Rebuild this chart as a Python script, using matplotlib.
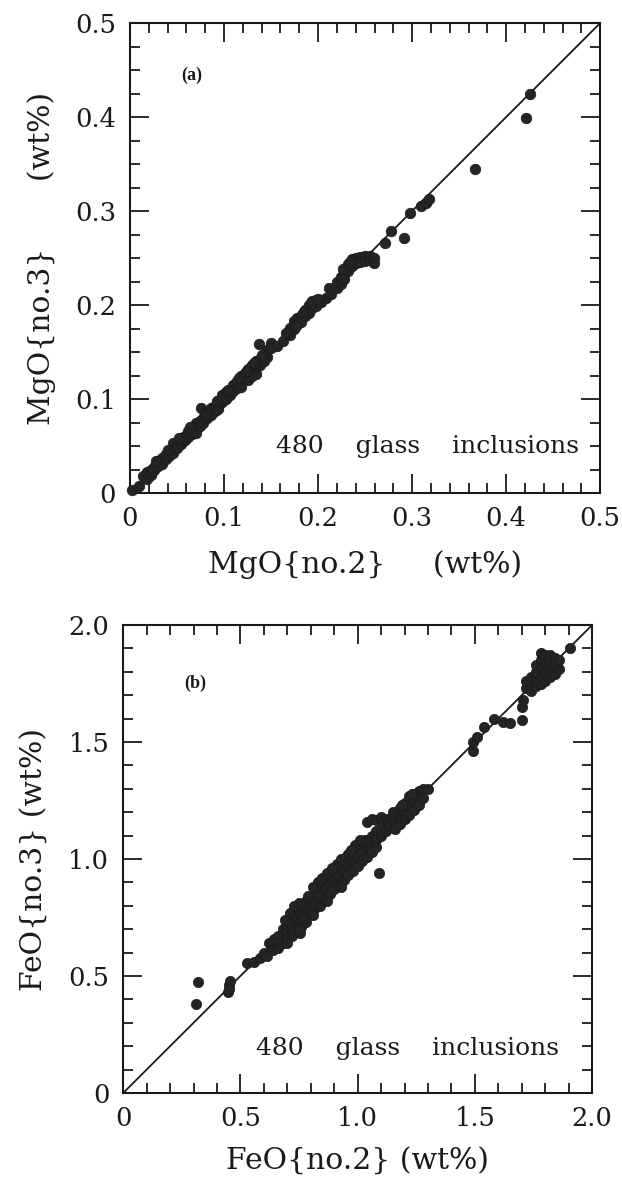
import numpy as np
import matplotlib.pyplot as plt
from matplotlib.ticker import MultipleLocator, FuncFormatter

# panel (a): MgO, probe no.2 vs no.3 (wt%)
mgo_no2 = [0.002, 0.010, 0.014, 0.018, 0.018, 0.022, 0.022, 0.026, 0.026, 0.030, 0.030,
           0.034, 0.034, 0.038, 0.038, 0.042, 0.042, 0.046, 0.046, 0.046, 0.050, 0.050,
           0.054, 0.054, 0.058, 0.058, 0.062, 0.062, 0.066, 0.066, 0.070, 0.070, 0.070,
           0.074, 0.074, 0.075, 0.078, 0.078, 0.082, 0.082, 0.086, 0.086, 0.090, 0.090,
           0.094, 0.094, 0.094, 0.098, 0.098, 0.102, 0.102, 0.106, 0.106, 0.110, 0.110,
           0.114, 0.114, 0.118, 0.118, 0.118, 0.122, 0.122, 0.126, 0.126, 0.126, 0.130,
           0.130, 0.130, 0.134, 0.134, 0.134, 0.137, 0.138, 0.138, 0.142, 0.142, 0.146,
           0.146, 0.150, 0.150, 0.156, 0.163, 0.170, 0.170, 0.174, 0.174, 0.178, 0.178,
           0.182, 0.182, 0.186, 0.186, 0.190, 0.190, 0.194, 0.194, 0.198, 0.198, 0.203,
           0.208, 0.214, 0.220, 0.220, 0.224, 0.224, 0.228, 0.228, 0.232, 0.232, 0.236,
           0.236, 0.240, 0.240, 0.245, 0.245, 0.250, 0.250, 0.255, 0.255, 0.259, 0.259,
           0.028, 0.040, 0.052, 0.064, 0.080, 0.092, 0.104, 0.116, 0.124, 0.132, 0.140,
           0.176, 0.184, 0.192, 0.212, 0.226, 0.234, 0.166, 0.200,
           0.271, 0.277, 0.291, 0.298, 0.309, 0.315, 0.318, 0.367, 0.421, 0.425]
mgo_no3 = [0.003, 0.008, 0.018, 0.015, 0.022, 0.025, 0.019, 0.028, 0.024, 0.034, 0.029,
           0.037, 0.031, 0.042, 0.036, 0.044, 0.039, 0.053, 0.047, 0.043, 0.053, 0.048,
           0.058, 0.052, 0.061, 0.056, 0.066, 0.060, 0.068, 0.063, 0.075, 0.068, 0.064,
           0.077, 0.071, 0.090, 0.080, 0.074, 0.086, 0.080, 0.090, 0.083, 0.093, 0.087,
           0.098, 0.092, 0.089, 0.104, 0.097, 0.107, 0.100, 0.110, 0.104, 0.115, 0.108,
           0.119, 0.112, 0.124, 0.117, 0.113, 0.128, 0.121, 0.132, 0.125, 0.120, 0.136,
           0.129, 0.124, 0.140, 0.133, 0.127, 0.158, 0.143, 0.136, 0.146, 0.140, 0.152,
           0.145, 0.160, 0.154, 0.156, 0.162, 0.168, 0.176, 0.183, 0.175, 0.186, 0.180,
           0.188, 0.182, 0.195, 0.188, 0.200, 0.192, 0.204, 0.197, 0.205, 0.199, 0.203,
           0.207, 0.212, 0.218, 0.224, 0.230, 0.222, 0.236, 0.228, 0.244, 0.236, 0.249,
           0.242, 0.250, 0.245, 0.251, 0.246, 0.252, 0.247, 0.252, 0.248, 0.250, 0.245,
           0.034, 0.046, 0.058, 0.070, 0.084, 0.098, 0.110, 0.122, 0.130, 0.138, 0.147,
           0.178, 0.192, 0.202, 0.218, 0.238, 0.246, 0.170, 0.206,
           0.266, 0.279, 0.271, 0.298, 0.305, 0.308, 0.313, 0.345, 0.399, 0.425]

# panel (b): FeO, probe no.2 vs no.3 (wt%)
feo_no2 = [0.311, 0.321, 0.445, 0.450, 0.455, 0.452, 0.527, 0.560, 0.585, 0.600, 0.615,
           0.620, 0.635, 0.645, 0.640, 0.640, 0.660, 0.660, 0.660, 0.680, 0.680, 0.680,
           0.700, 0.700, 0.700, 0.720, 0.720, 0.720, 0.720, 0.740, 0.740, 0.740, 0.740,
           0.760, 0.760, 0.760, 0.760, 0.755, 0.780, 0.780, 0.780, 0.780, 0.800, 0.800,
           0.800, 0.820, 0.820, 0.820, 0.840, 0.840, 0.840, 0.860, 0.860, 0.860, 0.880,
           0.880, 0.880, 0.900, 0.900, 0.900, 0.920, 0.920, 0.920, 0.940, 0.940, 0.940,
           0.960, 0.960, 0.960, 0.980, 0.980, 0.980, 1.000, 1.000, 1.000, 1.020, 1.020,
           1.020, 1.040, 1.040, 1.040, 1.040, 1.060, 1.060, 1.060, 1.060, 1.080, 1.080,
           1.080, 1.080, 1.093, 1.100, 1.100, 1.100, 1.120, 1.120, 1.120, 1.140, 1.140,
           1.160, 1.160, 1.160, 1.180, 1.180, 1.180, 1.200, 1.200, 1.200, 1.220, 1.220,
           1.220, 1.240, 1.240, 1.240, 1.260, 1.260, 1.260, 1.280, 1.280, 1.300, 1.490,
           1.490, 1.510, 1.540, 1.580, 1.620, 1.650, 1.700, 1.700, 1.707, 1.720, 1.720,
           1.740, 1.740, 1.740, 1.760, 1.760, 1.760, 1.760, 1.780, 1.780, 1.780, 1.780,
           1.780, 1.800, 1.800, 1.800, 1.800, 1.820, 1.820, 1.820, 1.820, 1.840, 1.840,
           1.840, 1.860, 1.860, 1.906,
           0.710, 0.730, 0.750, 0.770, 0.790, 0.830, 0.870, 0.910, 0.950, 0.990, 1.030,
           0.690, 0.750, 0.810, 0.850, 0.890, 0.930, 0.970, 1.010, 1.150, 1.190, 1.230,
           0.700, 0.810, 0.870, 0.930]
feo_no3 = [0.380, 0.473, 0.430, 0.460, 0.480, 0.445, 0.554, 0.560, 0.575, 0.600, 0.585,
           0.640, 0.620, 0.660, 0.640, 0.610, 0.670, 0.640, 0.620, 0.700, 0.670, 0.640,
           0.720, 0.690, 0.660, 0.760, 0.720, 0.690, 0.670, 0.780, 0.750, 0.720, 0.700,
           0.800, 0.770, 0.740, 0.710, 0.682, 0.820, 0.790, 0.760, 0.730, 0.830, 0.800,
           0.770, 0.860, 0.820, 0.790, 0.880, 0.840, 0.800, 0.910, 0.870, 0.830, 0.920,
           0.890, 0.850, 0.950, 0.910, 0.870, 0.970, 0.930, 0.890, 0.990, 0.950, 0.910,
           1.020, 0.970, 0.930, 1.030, 0.990, 0.950, 1.050, 1.010, 0.970, 1.060, 1.030,
           0.990, 1.080, 1.050, 1.010, 1.160, 1.100, 1.060, 1.030, 1.170, 1.120, 1.080,
           1.050, 1.167, 0.941, 1.130, 1.100, 1.180, 1.150, 1.120, 1.170, 1.170, 1.140,
           1.190, 1.160, 1.130, 1.220, 1.180, 1.150, 1.240, 1.200, 1.170, 1.270, 1.220,
           1.190, 1.280, 1.250, 1.210, 1.290, 1.250, 1.230, 1.300, 1.260, 1.300, 1.460,
           1.500, 1.520, 1.565, 1.600, 1.587, 1.580, 1.594, 1.650, 1.680, 1.730, 1.760,
           1.720, 1.750, 1.780, 1.740, 1.770, 1.800, 1.830, 1.750, 1.780, 1.820, 1.850,
           1.880, 1.760, 1.800, 1.840, 1.870, 1.780, 1.810, 1.840, 1.870, 1.790, 1.830,
           1.860, 1.810, 1.850, 1.900,
           0.770, 0.800, 0.700, 0.750, 0.840, 0.900, 0.940, 0.980, 1.010, 1.060, 1.080,
           0.740, 0.810, 0.880, 0.920, 0.960, 1.000, 1.040, 1.080, 1.200, 1.230, 1.280,
           0.640, 0.760, 0.820, 0.880]

ink = '#1a1a1a'
plt.rcParams['font.family'] = ['DejaVu Serif']

fig = plt.figure(figsize=(6.22, 11.86), dpi=100)
ax1 = fig.add_axes([0.209, 0.5843, 0.756, 0.3963])
ax2 = fig.add_axes([0.198, 0.0784, 0.754, 0.3946])

def style(ax, lim, major, minor_x, minor_y, one_decimal):
    ax.set_xlim(0, lim)
    ax.set_ylim(0, lim)
    ax.xaxis.set_major_locator(MultipleLocator(major))
    ax.yaxis.set_major_locator(MultipleLocator(major))
    ax.xaxis.set_minor_locator(MultipleLocator(minor_x))
    ax.yaxis.set_minor_locator(MultipleLocator(minor_y))
    if one_decimal:
        f = FuncFormatter(lambda v, p: '0' if abs(v) < 1e-9 else '%.1f' % v)
    else:
        f = FuncFormatter(lambda v, p: '0' if abs(v) < 1e-9 else '%g' % v)
    ax.xaxis.set_major_formatter(f)
    ax.yaxis.set_major_formatter(f)
    ax.tick_params(which='both', direction='in', top=True, right=True, width=1.3,
                   labelsize=18.5, colors=ink)
    ax.tick_params(which='major', length=14)
    ax.tick_params(which='minor', length=7)
    ax.tick_params(axis='x', which='major', pad=9)
    ax.tick_params(axis='y', which='major', pad=10)
    for s in ax.spines.values():
        s.set_linewidth(1.5)
        s.set_color(ink)

# (a)
ax1.plot([0, 0.5], [0, 0.5], color=ink, lw=1.3)
ax1.scatter(mgo_no2, mgo_no3, s=58, color='#242424', edgecolors=ink,
            linewidths=0.5, zorder=3, clip_on=False)
style(ax1, 0.5, 0.1, 0.02, 0.025, False)
ax1.set_xlabel('MgO{no.2}     (wt%)', fontsize=21.5, color=ink, labelpad=14)
ax1.set_ylabel('MgO{no.3}       (wt%)', fontsize=21.5, color=ink, labelpad=14)
ax1.text(0.11, 0.888, '(a)', transform=ax1.transAxes, fontsize=13,
         family='Liberation Serif', fontweight='bold', color=ink, va='center')
ax1.text(0.955, 0.10, '480    glass    inclusions', transform=ax1.transAxes,
         fontsize=18, ha='right', va='center', color=ink)

# (b)
ax2.plot([0, 2.0], [0, 2.0], color=ink, lw=1.3)
ax2.scatter(feo_no2, feo_no3, s=55, color='#242424', edgecolors=ink,
            linewidths=0.5, zorder=3)
style(ax2, 2.0, 0.5, 0.1, 0.1, True)
ax2.set_xlabel('FeO{no.2} (wt%)', fontsize=21.5, color=ink, labelpad=12)
ax2.set_ylabel('FeO{no.3} (wt%)', fontsize=21.5, color=ink, labelpad=14)
ax2.text(0.13, 0.875, '(b)', transform=ax2.transAxes, fontsize=13,
         family='Liberation Serif', fontweight='bold', color=ink, va='center')
ax2.text(0.93, 0.095, '480    glass    inclusions', transform=ax2.transAxes,
         fontsize=18, ha='right', va='center', color=ink)

fig.savefig('out.png', dpi=100)
